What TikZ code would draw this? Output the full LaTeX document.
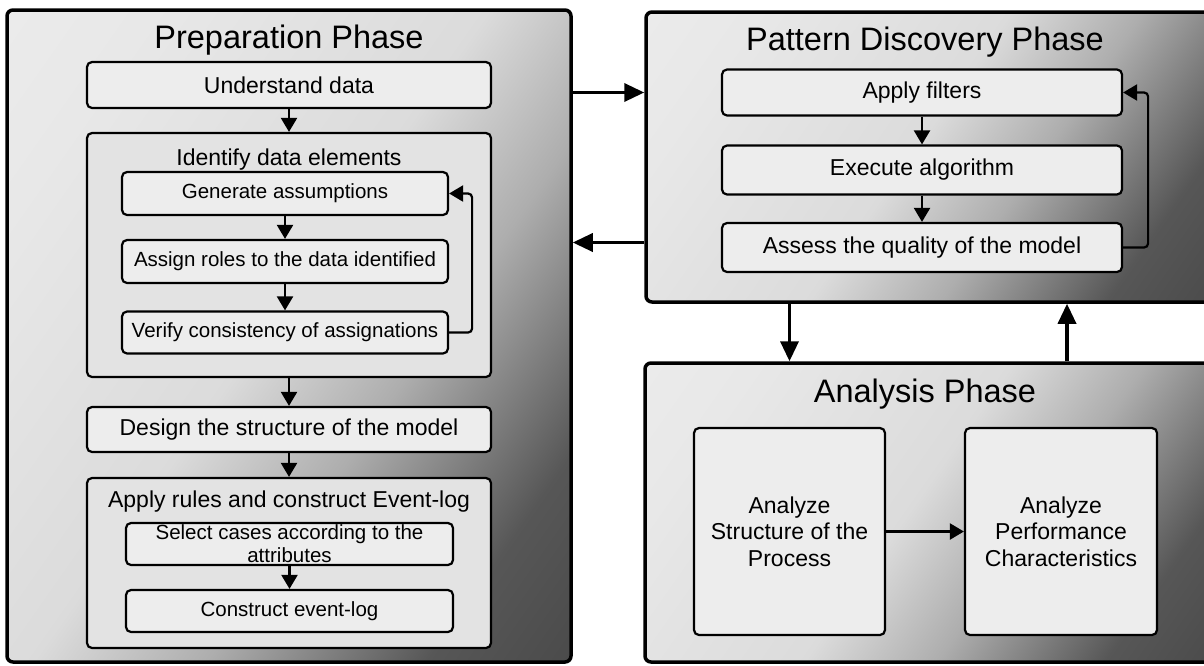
\documentclass[tikz,border=0pt]{standalone}
\usepackage{fontspec}
\setmainfont{Liberation Sans}
\usetikzlibrary{arrows.meta,calc}
\pgfdeclareverticalshading{phshade}{100bp}{color(0bp)=(black!78); color(25bp)=(black!66); color(40bp)=(black!32); color(52bp)=(black!14); color(75bp)=(black!9); color(100bp)=(black!6)}
\begin{document}
\begin{tikzpicture}[x=1pt,y=-1pt,
  phase/.style={draw=black, line width=3.5pt, rounded corners=6pt, shading=phshade, shading angle=55, inner sep=0pt},
  cont/.style={draw=black, line width=2.2pt, rounded corners=5pt, fill=black!11, inner sep=0pt},
  leaf/.style={draw=black, line width=2.2pt, rounded corners=5pt, fill=black!7, inner sep=0pt, align=center},
  ttl/.style={font=\fontsize{32.5}{38}\selectfont, anchor=base, inner sep=0pt},
  med/.style={font=\fontsize{23}{26.7}\selectfont},
  sml/.style={font=\fontsize{20.5}{23}\selectfont},
  arr/.style={line width=2.2pt, -{Triangle[width=16pt,length=14pt]}},
  big/.style={line width=3.5pt, -{Triangle[width=18pt,length=20pt]}}
]
\useasboundingbox (0,0) rectangle (1204,665);
\clip (0,0) rectangle (1204,665);
\fill[white] (0,0) rectangle (1204,665);

% Preparation phase
\node[phase, minimum width=564pt, minimum height=652pt] (prep) at (289,336) {};
\node[ttl] (prept) at (289,48) {Preparation Phase};
\node[leaf, med, minimum width=404pt, minimum height=46pt] (und) at (289,85) {Understand data};
\node[cont, minimum width=404pt, minimum height=244pt] (ide) at (289,255) {};
\node[med, anchor=base, inner sep=0pt] (idet) at (289,165) {Identify data elements};
\node[leaf, sml, minimum width=326pt, minimum height=43pt] (gen) at (285,193.5) {Generate assumptions};
\node[leaf, sml, minimum width=326pt, minimum height=43pt] (asg) at (285,261.5) {Assign roles to the data identified};
\node[leaf, sml, minimum width=326pt, minimum height=42pt] (ver) at (285,332.5) {Verify consistency of assignations};
\node[leaf, med, minimum width=404pt, minimum height=45pt] (des) at (289,429.5) {Design the structure of the model};
\node[cont, minimum width=404pt, minimum height=170pt] (app) at (289,563) {};
\node[med, anchor=base, inner sep=0pt] (appt) at (289,507) {Apply rules and construct Event-log};
\node[leaf, sml, minimum width=327pt, minimum height=42pt] (sel) at (289.5,544) {Select cases according to the\\attributes};
\node[leaf, sml, minimum width=327pt, minimum height=42pt] (con) at (289.5,611) {Construct event-log};

\draw[arr] (und.south) -- (ide.north);
\draw[arr] (gen.south) -- (asg.north);
\draw[arr] (asg.south) -- (ver.north);
\draw[arr, rounded corners=4pt] (ver.east) -| ($(gen.east)+(23,0)$) -- (gen.east);
\draw[arr] (ide.south) -- (des.north);
\draw[arr] (des.south) -- (app.north);
\draw[arr] (sel.south) -- (con.north);

% Pattern discovery phase
\node[phase, minimum width=570pt, minimum height=290pt] (pd) at (931,157) {};
\node[ttl] (pdt) at (925,50) {Pattern Discovery Phase};
\node[leaf, med, minimum width=400pt, minimum height=46pt] (fil) at (922,92.5) {Apply filters};
\node[leaf, med, minimum width=400pt, minimum height=49pt] (exe) at (922,170) {Execute algorithm};
\node[leaf, med, minimum width=400pt, minimum height=49pt] (ass) at (922,247.5) {Assess the quality of the model};
\draw[arr] (fil.south) -- (exe.north);
\draw[arr] (exe.south) -- (ass.north);
\draw[arr, rounded corners=4pt] (ass.east) -| ($(fil.east)+(25,0)$) -- (fil.east);

% Analysis phase
\node[phase, minimum width=570pt, minimum height=299pt] (ana) at (930,512.5) {};
\node[ttl] (anat) at (925,402) {Analysis Phase};
\node[leaf, med, minimum width=191pt, minimum height=207pt] (ast) at (789.5,531.5) {Analyze\\Structure of the\\Process};
\node[leaf, med, minimum width=192pt, minimum height=207pt] (apf) at (1061,531.5) {Analyze\\Performance\\Characteristics};
\draw[arr] (ast.east) -- (apf.west);

% Phase connectors
\draw[big] (prep.east |- fil) -- (pd.west |- fil);
\draw[big] ($(pd.west |- ass)+(0,-5)$) -- ($(prep.east |- ass)+(0,-5)$);
\draw[big] (pd.south -| ast) -- (ana.north -| ast);
\draw[big] ($(ana.north -| apf)+(6,0)$) -- ($(pd.south -| apf)+(6,0)$);
\end{tikzpicture}
\end{document}
